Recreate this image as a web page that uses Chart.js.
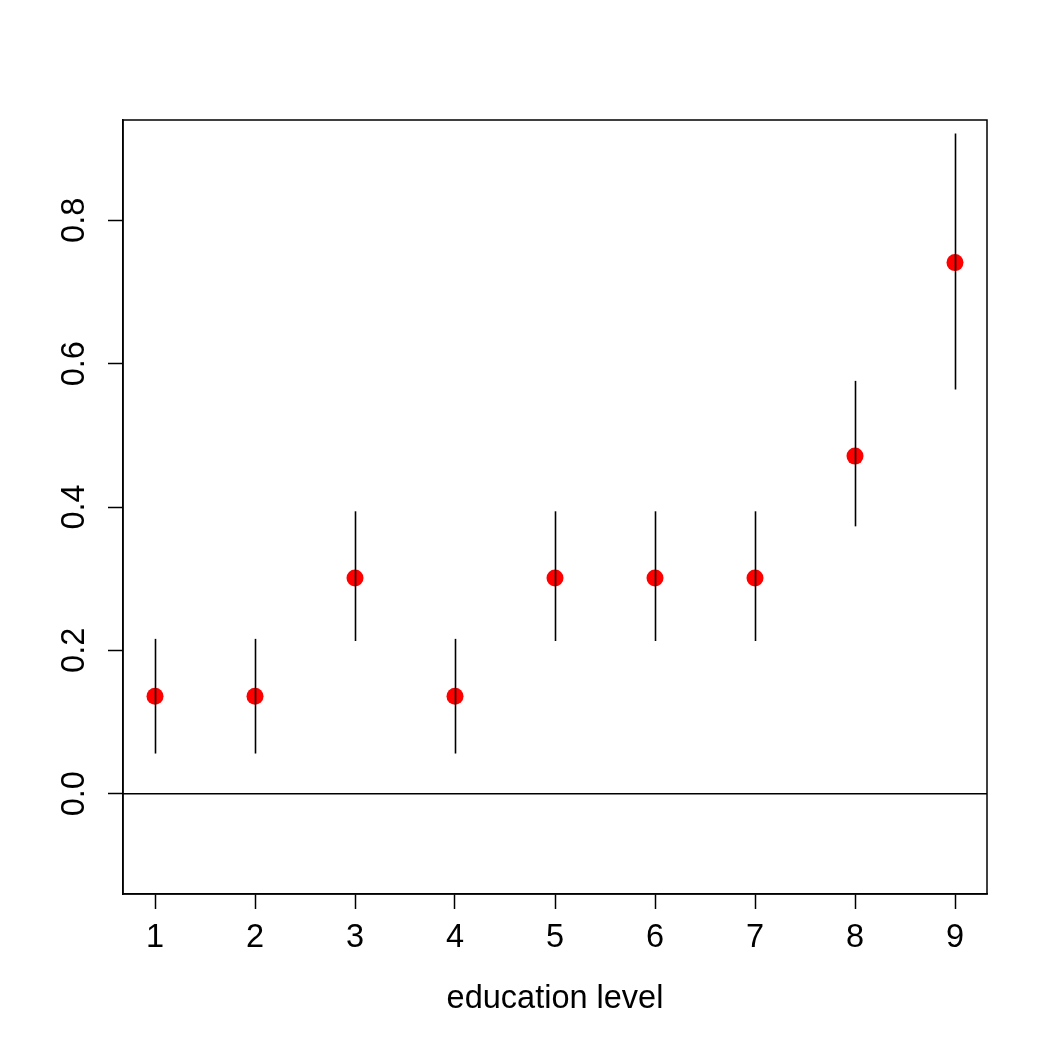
<!DOCTYPE html>
<html>
<head>
<meta charset="utf-8">
<script src="https://cdn.jsdelivr.net/npm/chart.js@4"></script>
<style>
  html, body { margin: 0; padding: 0; background: #fff; }
  #wrap { width: 1048px; height: 1048px; }
</style>
</head>
<body>
<div id="wrap"><canvas id="c" width="1048" height="1048"></canvas></div>
<script>
// ---- data ----
const educationLevels = [1, 2, 3, 4, 5, 6, 7, 8, 9];
const estimates = [0.136, 0.136, 0.301, 0.136, 0.301, 0.301, 0.301, 0.471, 0.741];
const lowerBounds = [0.056, 0.056, 0.213, 0.056, 0.213, 0.213, 0.213, 0.373, 0.564];
const upperBounds = [0.216, 0.216, 0.394, 0.216, 0.394, 0.394, 0.394, 0.576, 0.921];
const xTickValues = [1, 2, 3, 4, 5, 6, 7, 8, 9];
const yTickValues = [0.0, 0.2, 0.4, 0.6, 0.8];
const xAxisTitle = 'education level';

const FONT = "'Liberation Sans', Arial, Helvetica, sans-serif";
const FSIZE = 32.5;

const points = educationLevels.map((x, i) => ({ x: x, y: estimates[i] }));

const frameAndBars = {
  id: 'frameAndBars',
  afterDatasetsDraw(chart) {
    const { ctx, chartArea: a, scales: { x, y } } = chart;
    ctx.save();
    ctx.strokeStyle = '#000';
    // error bars
    ctx.lineWidth = 1.6;
    educationLevels.forEach((lv, i) => {
      const px = Math.round(x.getPixelForValue(lv)) + 0.5;
      ctx.beginPath();
      ctx.moveTo(px, y.getPixelForValue(lowerBounds[i]));
      ctx.lineTo(px, y.getPixelForValue(upperBounds[i]));
      ctx.stroke();
    });
    // zero reference line
    ctx.lineWidth = 1.5;
    const y0 = y.getPixelForValue(0);
    ctx.beginPath();
    ctx.moveTo(a.left, y0);
    ctx.lineTo(a.right, y0);
    ctx.stroke();
    // box
    ctx.lineWidth = 1.5;
    ctx.strokeRect(a.left, a.top, a.right - a.left, a.bottom - a.top);
    ctx.restore();
  }
};

new Chart(document.getElementById('c'), {
  type: 'scatter',
  data: {
    datasets: [{
      data: points,
      backgroundColor: '#ff0000',
      borderColor: '#ff0000',
      borderWidth: 0,
      pointRadius: 8.5,
      pointHoverRadius: 8.5
    }]
  },
  options: {
    responsive: false,
    animation: false,
    devicePixelRatio: 1,
    layout: { padding: { top: 120, right: 61, left: 0, bottom: 0 } },
    plugins: { legend: { display: false }, tooltip: { enabled: false } },
    scales: {
      x: {
        type: 'linear',
        min: 0.68,
        max: 9.32,
        afterBuildTicks(s) { s.ticks = xTickValues.map(v => ({ value: v })); },
        afterFit(s) { s.height = 154; },
        grid: { drawOnChartArea: false, tickLength: 15, color: '#000', tickColor: '#000', tickWidth: 1.5 },
        border: { display: true, color: '#000', width: 1.5 },
        ticks: {
          color: '#000',
          padding: 10,
          maxRotation: 0,
          autoSkip: false,
          font: { family: FONT, size: FSIZE },
          callback: v => String(v)
        },
        title: {
          display: true,
          text: xAxisTitle,
          color: '#000',
          font: { family: FONT, size: FSIZE },
          padding: { top: 0, bottom: 29 }
        }
      },
      y: {
        type: 'linear',
        min: -0.14,
        max: 0.94,
        afterBuildTicks(s) { s.ticks = yTickValues.map(v => ({ value: v })); },
        afterFit(s) { s.width = 123; },
        grid: { drawOnChartArea: false, tickLength: 15, color: '#000', tickColor: '#000', tickWidth: 1.5 },
        border: { display: true, color: '#000', width: 1.5 },
        ticks: {
          color: '#000',
          padding: 10,
          minRotation: 90,
          maxRotation: 90,
          crossAlign: 'center',
          autoSkip: false,
          font: { family: FONT, size: FSIZE },
          callback: v => Number(v).toFixed(1)
        }
      }
    }
  },
  plugins: [frameAndBars]
});
</script>
</body>
</html>
